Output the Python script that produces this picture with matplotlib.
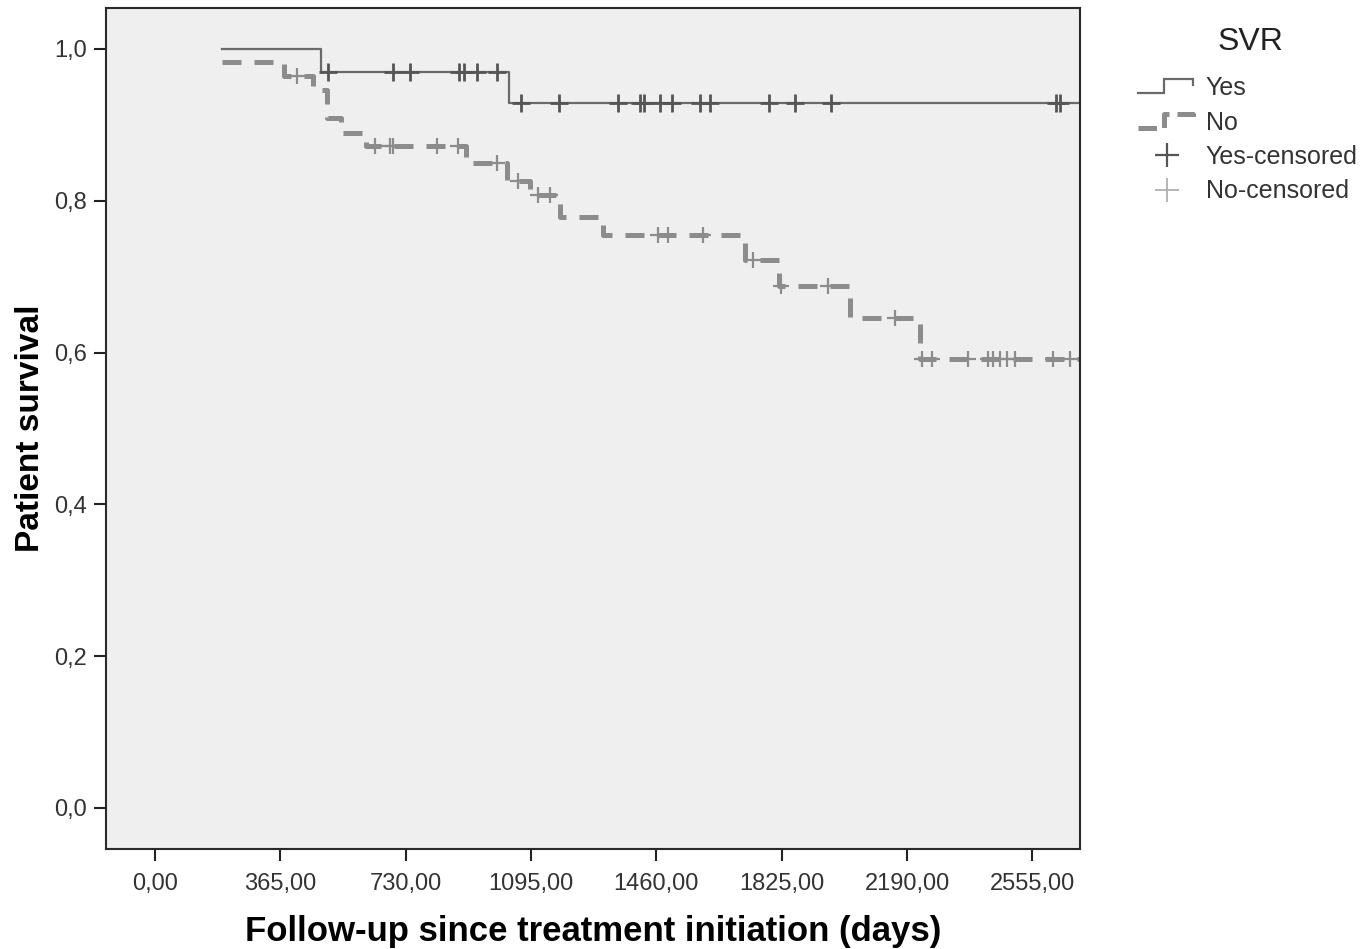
import numpy as np
import matplotlib
matplotlib.use("Agg")
import matplotlib.pyplot as plt
from matplotlib.legend_handler import HandlerBase
from matplotlib.lines import Line2D

plt.rcParams['font.family'] = ['Liberation Sans', 'DejaVu Sans']

# Kaplan-Meier steps (days, survival)
yes_times = [195, 483, 1030]
yes_surv = [1.0, 0.970, 0.929]
yes_censored = [504, 693, 743, 885, 900, 938, 996, 1066, 1177, 1349, 1412, 1425,
                1471, 1506, 1588, 1617, 1789, 1864, 1969, 2625, 2635]

no_times = [195, 376, 460, 501, 542, 615, 906, 1025, 1092, 1180, 1305,
            1718, 1818, 2024, 2228]
no_surv = [0.983, 0.964, 0.946, 0.909, 0.889, 0.872, 0.850, 0.826, 0.807,
           0.778, 0.755, 0.722, 0.688, 0.646, 0.591]
no_censored = [414, 641, 685, 693, 821, 883, 996, 1057, 1116, 1151, 1465, 1494,
               1596, 1742, 1822, 1960, 2156, 2234, 2263, 2368, 2426, 2441, 2461,
               2482, 2505, 2616, 2665]

end_day = 2700
xticks = [0, 365, 730, 1095, 1460, 1825, 2190, 2555]
xtick_labels = ['0,00', '365,00', '730,00', '1095,00', '1460,00', '1825,00', '2190,00', '2555,00']
yticks = [0.0, 0.2, 0.4, 0.6, 0.8, 1.0]
ytick_labels = ['0,0', '0,2', '0,4', '0,6', '0,8', '1,0']

yes_color = '#6a6a6a'
yes_mark = '#555555'
no_color = '#8c8c8c'


def surv_at(times, surv, t):
    idx = np.searchsorted(times, t, side='right') - 1
    return np.array(surv)[idx]


class StepHandler(HandlerBase):
    # SPSS-like little step in the legend
    def create_artists(self, legend, orig_handle, xdescent, ydescent,
                       width, height, fontsize, trans):
        xs = np.array([0.0, 0.45, 0.45, 0.95, 0.95]) * width - xdescent
        ys = np.array([0.1, 0.1, 0.9, 0.9, 0.55]) * height - ydescent
        ln = Line2D(xs, ys, color=orig_handle.get_color(),
                    lw=orig_handle.get_linewidth(),
                    ls=orig_handle.get_linestyle(),
                    dash_capstyle='butt', solid_joinstyle='miter')
        ln.set_transform(trans)
        return [ln]


fig = plt.figure(figsize=(13.63, 9.49), dpi=100)
ax = fig.add_axes([0.0778, 0.1054, 0.7146, 0.8862])
ax.set_facecolor('#efefef')

yx = yes_times + [end_day]
yy = yes_surv + [yes_surv[-1]]
nx = no_times + [end_day]
ny = no_surv + [no_surv[-1]]

ax.step(nx, ny, where='post', color=no_color, lw=3.6, ls=(0, (3.8, 2.6)),
        dash_capstyle='butt')
ax.step(yx, yy, where='post', color=yes_color, lw=1.6)

ax.plot(no_censored, surv_at(no_times, no_surv, no_censored), ls='none',
        marker='+', ms=11, mew=1.6, color=no_color)
ax.plot(yes_censored, surv_at(yes_times, yes_surv, yes_censored), ls='none',
        marker='+', ms=13, mew=2.0, color=yes_mark)

ax.set_xlim(-143, 2694)
ax.set_ylim(-0.054, 1.054)
ax.set_xticks(xticks)
ax.set_xticklabels(xtick_labels)
ax.set_yticks(yticks)
ax.set_yticklabels(ytick_labels)
ax.tick_params(direction='out', length=8.5, width=1.5, labelsize=17,
               labelcolor='#333333', color='#222222')
ax.tick_params(axis='x', pad=9)
ax.tick_params(axis='y', pad=5)
for s in ax.spines.values():
    s.set_color('#2a2a2a')
    s.set_linewidth(1.5)

ax.set_xlabel('Follow-up since treatment initiation (days)', fontsize=25,
              fontweight='bold', labelpad=14)
ax.set_ylabel('Patient survival', fontsize=24, fontweight='bold', labelpad=6)

h_yes = Line2D([], [], color=yes_color, lw=1.6)
h_no = Line2D([], [], color=no_color, lw=3.6, ls=(0, (3.8, 2.6)))
h_yc = Line2D([], [], ls='none', marker='+', ms=17, mew=1.6, color=yes_mark)
h_nc = Line2D([], [], ls='none', marker='+', ms=17, mew=1.3, color='#b0b0b0')

fig.text(1250 / 1363, 1 - 42 / 949, 'SVR', fontsize=23, color='#222222',
         ha='center', va='center')
leg = fig.legend([h_yes, h_no, h_yc, h_nc], ['Yes', 'No', 'Yes-censored', 'No-censored'],
                 loc='upper left', bbox_to_anchor=(1138 / 1363, 1 - 76 / 949),
                 frameon=False, borderpad=0, borderaxespad=0,
                 fontsize=18, handlelength=2.3, handletextpad=0.4,
                 labelspacing=0.42,
                 handler_map={h_yes: StepHandler(), h_no: StepHandler()})
for t in leg.get_texts():
    t.set_color('#333333')

fig.savefig('out.png', dpi=100)
